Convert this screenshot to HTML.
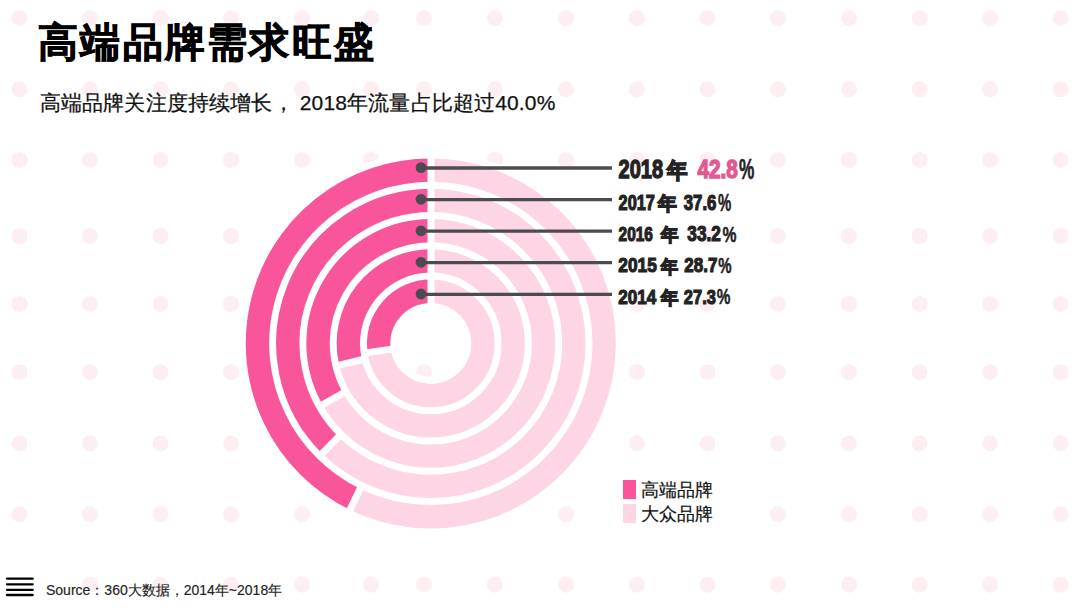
<!DOCTYPE html>
<html><head><meta charset="utf-8">
<style>
*{margin:0;padding:0;box-sizing:border-box}
html,body{width:1080px;height:608px;overflow:hidden;background:#fff}
body{position:relative;font-family:"Liberation Sans",sans-serif;color:#111}
svg.bg{position:absolute;left:0;top:0;font-family:"Liberation Sans",sans-serif}
.abs{position:absolute;white-space:nowrap}
.title{left:38px;top:17px;font-size:40px;letter-spacing:2.25px;font-weight:700;color:#000;line-height:50px;-webkit-text-stroke:0.8px #000}
.sub{left:39.8px;top:89.2px;font-size:21px;letter-spacing:0.16px;line-height:28px;color:#111;-webkit-text-stroke:0.25px #111}
.leg{left:641px;font-size:18px;line-height:20px;color:#111;-webkit-text-stroke:0.2px #111}
.sq{position:absolute;left:623px;width:13px;height:19px}
.src{left:46px;top:581px;font-size:14px;line-height:18px;color:#222;-webkit-text-stroke:0.15px #222}
</style></head><body>
<svg class="bg" width="1080" height="608" viewBox="0 0 1080 608">
<circle cx="19.5" cy="18.2" r="8" fill="#fdeef1"/>
<circle cx="90" cy="18.2" r="8" fill="#fdeef1"/>
<circle cx="160.5" cy="18.2" r="8" fill="#fdeef1"/>
<circle cx="231" cy="18.2" r="8" fill="#fdeef1"/>
<circle cx="302" cy="18.2" r="8" fill="#fdeef1"/>
<circle cx="371" cy="18.2" r="8" fill="#fdeef1"/>
<circle cx="424" cy="18.2" r="8" fill="#fdeef1"/>
<circle cx="495" cy="18.2" r="8" fill="#fdeef1"/>
<circle cx="566" cy="18.2" r="8" fill="#fdeef1"/>
<circle cx="637" cy="18.2" r="8" fill="#fdeef1"/>
<circle cx="707.5" cy="18.2" r="8" fill="#fdeef1"/>
<circle cx="778" cy="18.2" r="8" fill="#fdeef1"/>
<circle cx="849" cy="18.2" r="8" fill="#fdeef1"/>
<circle cx="919.6" cy="18.2" r="8" fill="#fdeef1"/>
<circle cx="990" cy="18.2" r="8" fill="#fdeef1"/>
<circle cx="1060.7" cy="18.2" r="8" fill="#fdeef1"/>
<circle cx="19.5" cy="89.3" r="8" fill="#fdeef1"/>
<circle cx="90" cy="89.3" r="8" fill="#fdeef1"/>
<circle cx="160.5" cy="89.3" r="8" fill="#fdeef1"/>
<circle cx="231" cy="89.3" r="8" fill="#fdeef1"/>
<circle cx="302" cy="89.3" r="8" fill="#fdeef1"/>
<circle cx="371" cy="89.3" r="8" fill="#fdeef1"/>
<circle cx="424" cy="89.3" r="8" fill="#fdeef1"/>
<circle cx="495" cy="89.3" r="8" fill="#fdeef1"/>
<circle cx="566" cy="89.3" r="8" fill="#fdeef1"/>
<circle cx="637" cy="89.3" r="8" fill="#fdeef1"/>
<circle cx="707.5" cy="89.3" r="8" fill="#fdeef1"/>
<circle cx="778" cy="89.3" r="8" fill="#fdeef1"/>
<circle cx="849" cy="89.3" r="8" fill="#fdeef1"/>
<circle cx="919.6" cy="89.3" r="8" fill="#fdeef1"/>
<circle cx="990" cy="89.3" r="8" fill="#fdeef1"/>
<circle cx="1060.7" cy="89.3" r="8" fill="#fdeef1"/>
<circle cx="19.5" cy="160" r="8" fill="#fdeef1"/>
<circle cx="90" cy="160" r="8" fill="#fdeef1"/>
<circle cx="160.5" cy="160" r="8" fill="#fdeef1"/>
<circle cx="231" cy="160" r="8" fill="#fdeef1"/>
<circle cx="302" cy="160" r="8" fill="#fdeef1"/>
<circle cx="371" cy="160" r="8" fill="#fdeef1"/>
<circle cx="424" cy="160" r="8" fill="#fdeef1"/>
<circle cx="495" cy="160" r="8" fill="#fdeef1"/>
<circle cx="566" cy="160" r="8" fill="#fdeef1"/>
<circle cx="637" cy="160" r="8" fill="#fdeef1"/>
<circle cx="707.5" cy="160" r="8" fill="#fdeef1"/>
<circle cx="778" cy="160" r="8" fill="#fdeef1"/>
<circle cx="849" cy="160" r="8" fill="#fdeef1"/>
<circle cx="919.6" cy="160" r="8" fill="#fdeef1"/>
<circle cx="990" cy="160" r="8" fill="#fdeef1"/>
<circle cx="1060.7" cy="160" r="8" fill="#fdeef1"/>
<circle cx="19.5" cy="236" r="8" fill="#fdeef1"/>
<circle cx="90" cy="236" r="8" fill="#fdeef1"/>
<circle cx="160.5" cy="236" r="8" fill="#fdeef1"/>
<circle cx="231" cy="236" r="8" fill="#fdeef1"/>
<circle cx="302" cy="236" r="8" fill="#fdeef1"/>
<circle cx="371" cy="236" r="8" fill="#fdeef1"/>
<circle cx="424" cy="236" r="8" fill="#fdeef1"/>
<circle cx="495" cy="236" r="8" fill="#fdeef1"/>
<circle cx="566" cy="236" r="8" fill="#fdeef1"/>
<circle cx="637" cy="236" r="8" fill="#fdeef1"/>
<circle cx="707.5" cy="236" r="8" fill="#fdeef1"/>
<circle cx="778" cy="236" r="8" fill="#fdeef1"/>
<circle cx="849" cy="236" r="8" fill="#fdeef1"/>
<circle cx="919.6" cy="236" r="8" fill="#fdeef1"/>
<circle cx="990" cy="236" r="8" fill="#fdeef1"/>
<circle cx="1060.7" cy="236" r="8" fill="#fdeef1"/>
<circle cx="19.5" cy="304" r="8" fill="#fdeef1"/>
<circle cx="90" cy="304" r="8" fill="#fdeef1"/>
<circle cx="160.5" cy="304" r="8" fill="#fdeef1"/>
<circle cx="231" cy="304" r="8" fill="#fdeef1"/>
<circle cx="302" cy="304" r="8" fill="#fdeef1"/>
<circle cx="371" cy="304" r="8" fill="#fdeef1"/>
<circle cx="424" cy="304" r="8" fill="#fdeef1"/>
<circle cx="495" cy="304" r="8" fill="#fdeef1"/>
<circle cx="566" cy="304" r="8" fill="#fdeef1"/>
<circle cx="637" cy="304" r="8" fill="#fdeef1"/>
<circle cx="707.5" cy="304" r="8" fill="#fdeef1"/>
<circle cx="778" cy="304" r="8" fill="#fdeef1"/>
<circle cx="849" cy="304" r="8" fill="#fdeef1"/>
<circle cx="919.6" cy="304" r="8" fill="#fdeef1"/>
<circle cx="990" cy="304" r="8" fill="#fdeef1"/>
<circle cx="1060.7" cy="304" r="8" fill="#fdeef1"/>
<circle cx="19.5" cy="372.2" r="8" fill="#fdeef1"/>
<circle cx="90" cy="372.2" r="8" fill="#fdeef1"/>
<circle cx="160.5" cy="372.2" r="8" fill="#fdeef1"/>
<circle cx="231" cy="372.2" r="8" fill="#fdeef1"/>
<circle cx="302" cy="372.2" r="8" fill="#fdeef1"/>
<circle cx="371" cy="372.2" r="8" fill="#fdeef1"/>
<circle cx="424" cy="372.2" r="8" fill="#fdeef1"/>
<circle cx="495" cy="372.2" r="8" fill="#fdeef1"/>
<circle cx="566" cy="372.2" r="8" fill="#fdeef1"/>
<circle cx="637" cy="372.2" r="8" fill="#fdeef1"/>
<circle cx="707.5" cy="372.2" r="8" fill="#fdeef1"/>
<circle cx="778" cy="372.2" r="8" fill="#fdeef1"/>
<circle cx="849" cy="372.2" r="8" fill="#fdeef1"/>
<circle cx="919.6" cy="372.2" r="8" fill="#fdeef1"/>
<circle cx="990" cy="372.2" r="8" fill="#fdeef1"/>
<circle cx="1060.7" cy="372.2" r="8" fill="#fdeef1"/>
<circle cx="19.5" cy="443.3" r="8" fill="#fdeef1"/>
<circle cx="90" cy="443.3" r="8" fill="#fdeef1"/>
<circle cx="160.5" cy="443.3" r="8" fill="#fdeef1"/>
<circle cx="231" cy="443.3" r="8" fill="#fdeef1"/>
<circle cx="302" cy="443.3" r="8" fill="#fdeef1"/>
<circle cx="371" cy="443.3" r="8" fill="#fdeef1"/>
<circle cx="424" cy="443.3" r="8" fill="#fdeef1"/>
<circle cx="495" cy="443.3" r="8" fill="#fdeef1"/>
<circle cx="566" cy="443.3" r="8" fill="#fdeef1"/>
<circle cx="637" cy="443.3" r="8" fill="#fdeef1"/>
<circle cx="707.5" cy="443.3" r="8" fill="#fdeef1"/>
<circle cx="778" cy="443.3" r="8" fill="#fdeef1"/>
<circle cx="849" cy="443.3" r="8" fill="#fdeef1"/>
<circle cx="919.6" cy="443.3" r="8" fill="#fdeef1"/>
<circle cx="990" cy="443.3" r="8" fill="#fdeef1"/>
<circle cx="1060.7" cy="443.3" r="8" fill="#fdeef1"/>
<circle cx="19.5" cy="514.3" r="8" fill="#fdeef1"/>
<circle cx="90" cy="514.3" r="8" fill="#fdeef1"/>
<circle cx="160.5" cy="514.3" r="8" fill="#fdeef1"/>
<circle cx="231" cy="514.3" r="8" fill="#fdeef1"/>
<circle cx="302" cy="514.3" r="8" fill="#fdeef1"/>
<circle cx="371" cy="514.3" r="8" fill="#fdeef1"/>
<circle cx="424" cy="514.3" r="8" fill="#fdeef1"/>
<circle cx="495" cy="514.3" r="8" fill="#fdeef1"/>
<circle cx="566" cy="514.3" r="8" fill="#fdeef1"/>
<circle cx="637" cy="514.3" r="8" fill="#fdeef1"/>
<circle cx="707.5" cy="514.3" r="8" fill="#fdeef1"/>
<circle cx="778" cy="514.3" r="8" fill="#fdeef1"/>
<circle cx="849" cy="514.3" r="8" fill="#fdeef1"/>
<circle cx="919.6" cy="514.3" r="8" fill="#fdeef1"/>
<circle cx="990" cy="514.3" r="8" fill="#fdeef1"/>
<circle cx="1060.7" cy="514.3" r="8" fill="#fdeef1"/>
<circle cx="19.5" cy="584.7" r="8" fill="#fdeef1"/>
<circle cx="90" cy="584.7" r="8" fill="#fdeef1"/>
<circle cx="160.5" cy="584.7" r="8" fill="#fdeef1"/>
<circle cx="231" cy="584.7" r="8" fill="#fdeef1"/>
<circle cx="302" cy="584.7" r="8" fill="#fdeef1"/>
<circle cx="371" cy="584.7" r="8" fill="#fdeef1"/>
<circle cx="424" cy="584.7" r="8" fill="#fdeef1"/>
<circle cx="495" cy="584.7" r="8" fill="#fdeef1"/>
<circle cx="566" cy="584.7" r="8" fill="#fdeef1"/>
<circle cx="637" cy="584.7" r="8" fill="#fdeef1"/>
<circle cx="707.5" cy="584.7" r="8" fill="#fdeef1"/>
<circle cx="778" cy="584.7" r="8" fill="#fdeef1"/>
<circle cx="849" cy="584.7" r="8" fill="#fdeef1"/>
<circle cx="919.6" cy="584.7" r="8" fill="#fdeef1"/>
<circle cx="990" cy="584.7" r="8" fill="#fdeef1"/>
<circle cx="1060.7" cy="584.7" r="8" fill="#fdeef1"/>
<circle cx="430.8" cy="343.4" r="112.5" fill="none" stroke="#fff" stroke-width="158.0"/>
<circle cx="430.8" cy="343.4" r="173.35" fill="none" stroke="#fdd5e4" stroke-width="23.30"/>
<path d="M430.80,170.05 A173.35,173.35 0 0 0 355.03,499.31" fill="none" stroke="#f8559a" stroke-width="23.30"/>
<line x1="360.99" y1="487.04" x2="349.06" y2="511.59" stroke="#fff" stroke-width="7.0"/>
<circle cx="430.8" cy="343.4" r="143.05" fill="none" stroke="#fdd5e4" stroke-width="23.30"/>
<path d="M430.80,200.35 A143.05,143.05 0 0 0 330.29,445.19" fill="none" stroke="#f8559a" stroke-width="23.30"/>
<line x1="339.88" y1="435.47" x2="320.69" y2="454.90" stroke="#fff" stroke-width="7.0"/>
<circle cx="430.8" cy="343.4" r="112.75" fill="none" stroke="#fdd5e4" stroke-width="23.30"/>
<path d="M430.80,230.65 A112.75,112.75 0 0 0 332.69,398.96" fill="none" stroke="#f8559a" stroke-width="23.30"/>
<line x1="344.56" y1="392.23" x2="320.81" y2="405.68" stroke="#fff" stroke-width="7.0"/>
<circle cx="430.8" cy="343.4" r="82.44999999999999" fill="none" stroke="#fdd5e4" stroke-width="23.30"/>
<path d="M430.80,260.95 A82.44999999999999,82.44999999999999 0 0 0 350.57,362.40" fill="none" stroke="#f8559a" stroke-width="23.30"/>
<line x1="363.85" y1="359.25" x2="337.29" y2="365.54" stroke="#fff" stroke-width="7.0"/>
<circle cx="430.8" cy="343.4" r="52.15" fill="none" stroke="#fdd5e4" stroke-width="23.30"/>
<path d="M430.80,291.25 A52.15,52.15 0 0 0 379.19,350.91" fill="none" stroke="#f8559a" stroke-width="23.30"/>
<line x1="392.70" y1="348.94" x2="365.69" y2="352.88" stroke="#fff" stroke-width="7.0"/>
<line x1="431" y1="305.4" x2="431" y2="153.39999999999998" stroke="#fff" stroke-width="7.0"/>
<line x1="421" y1="168.0" x2="612" y2="168.0" stroke="#4d4a50" stroke-width="3.3"/>
<circle cx="421" cy="167.6" r="5.4" fill="#4d4a50"/>
<line x1="421" y1="199.7" x2="612" y2="199.7" stroke="#4d4a50" stroke-width="3.3"/>
<circle cx="421" cy="199.3" r="5.4" fill="#4d4a50"/>
<line x1="421" y1="231.2" x2="612" y2="231.2" stroke="#4d4a50" stroke-width="3.3"/>
<circle cx="421" cy="230.8" r="5.4" fill="#4d4a50"/>
<line x1="421" y1="262.7" x2="612" y2="262.7" stroke="#4d4a50" stroke-width="3.3"/>
<circle cx="421" cy="262.3" r="5.4" fill="#4d4a50"/>
<line x1="421" y1="294.4" x2="612" y2="294.4" stroke="#4d4a50" stroke-width="3.3"/>
<circle cx="421" cy="294.0" r="5.4" fill="#4d4a50"/>
<text x="618.56" y="178.2" font-size="24.86" font-weight="bold" fill="#232323" stroke="#232323" stroke-width="1.3" textLength="44.54" lengthAdjust="spacingAndGlyphs">2018</text>
<text x="666.78" y="178.2" font-size="21.72" font-weight="bold" fill="#232323" stroke="#232323" stroke-width="1.5" textLength="20.39" lengthAdjust="spacingAndGlyphs">年</text>
<text x="697.44" y="178.2" font-size="24.86" font-weight="bold" fill="#e35891" stroke="#e35891" stroke-width="1.3" textLength="40.46" lengthAdjust="spacingAndGlyphs">42.8</text>
<text x="739.12" y="179.26" font-size="28.94" font-weight="bold" fill="#232323" stroke="#232323" stroke-width="0.5" textLength="15.33" lengthAdjust="spacingAndGlyphs">%</text>
<text x="618.57" y="209.9" font-size="21.3" font-weight="bold" fill="#232323" stroke="#232323" stroke-width="1.2" textLength="36.27" lengthAdjust="spacingAndGlyphs">2017</text>
<text x="657.91" y="210.21" font-size="19.02" font-weight="bold" fill="#232323" stroke="#232323" stroke-width="1.3" textLength="18.73" lengthAdjust="spacingAndGlyphs">年</text>
<text x="683.75" y="209.9" font-size="21.3" font-weight="bold" fill="#232323" stroke="#232323" stroke-width="1.2" textLength="32.62" lengthAdjust="spacingAndGlyphs">37.6</text>
<text x="718.04" y="210.68" font-size="23.12" font-weight="bold" fill="#232323" stroke="#232323" stroke-width="0.5" textLength="13.28" lengthAdjust="spacingAndGlyphs">%</text>
<text x="618.59" y="241.2" font-size="20.82" font-weight="bold" fill="#232323" stroke="#232323" stroke-width="1.2" textLength="34.28" lengthAdjust="spacingAndGlyphs">2016</text>
<text x="661.42" y="241.31" font-size="18.37" font-weight="bold" fill="#232323" stroke="#232323" stroke-width="1.3" textLength="17.33" lengthAdjust="spacingAndGlyphs">年</text>
<text x="687.35" y="241.2" font-size="22.45" font-weight="bold" fill="#232323" stroke="#232323" stroke-width="1.2" textLength="33.46" lengthAdjust="spacingAndGlyphs">33.2</text>
<text x="722.54" y="241.95" font-size="22.3" font-weight="bold" fill="#232323" stroke="#232323" stroke-width="0.5" textLength="13.98" lengthAdjust="spacingAndGlyphs">%</text>
<text x="618.37" y="272.3" font-size="21.08" font-weight="bold" fill="#232323" stroke="#232323" stroke-width="1.2" textLength="38.37" lengthAdjust="spacingAndGlyphs">2015</text>
<text x="661.0" y="272.61" font-size="18.31" font-weight="bold" fill="#232323" stroke="#232323" stroke-width="1.3" textLength="17.04" lengthAdjust="spacingAndGlyphs">年</text>
<text x="684.37" y="272.3" font-size="21.08" font-weight="bold" fill="#232323" stroke="#232323" stroke-width="1.2" textLength="32.99" lengthAdjust="spacingAndGlyphs">28.7</text>
<text x="718.24" y="273.08" font-size="22.88" font-weight="bold" fill="#232323" stroke="#232323" stroke-width="0.5" textLength="13.32" lengthAdjust="spacingAndGlyphs">%</text>
<text x="618.37" y="303.7" font-size="21.08" font-weight="bold" fill="#232323" stroke="#232323" stroke-width="1.2" textLength="37.94" lengthAdjust="spacingAndGlyphs">2014</text>
<text x="660.52" y="303.61" font-size="18.31" font-weight="bold" fill="#232323" stroke="#232323" stroke-width="1.3" textLength="17.32" lengthAdjust="spacingAndGlyphs">年</text>
<text x="683.87" y="303.7" font-size="21.08" font-weight="bold" fill="#232323" stroke="#232323" stroke-width="1.2" textLength="32.05" lengthAdjust="spacingAndGlyphs">27.3</text>
<text x="716.74" y="304.45" font-size="22.62" font-weight="bold" fill="#232323" stroke="#232323" stroke-width="0.5" textLength="13.65" lengthAdjust="spacingAndGlyphs">%</text>
<rect x="3" y="574" width="34" height="25" fill="#fff"/>
<g stroke="#000" stroke-width="2.3" stroke-linecap="round"><line x1="7" y1="578.7" x2="32.7" y2="578.7"/><line x1="7" y1="584.3" x2="32.7" y2="584.3"/><line x1="7" y1="589.8" x2="32.7" y2="589.8"/><line x1="7" y1="595" x2="32.7" y2="595"/></g>
</svg>
<div class="abs title">高端品牌需求旺盛</div>
<div class="abs sub">高端品牌关注度持续增长， 2018年流量占比超过40.0%</div>
<div class="abs" style="left:619px;top:476px;width:98px;height:51px;background:#fff"></div>
<div class="sq" style="top:480px;background:#f8559a"></div>
<div class="sq" style="top:504px;background:#fdd5e4"></div>
<div class="abs leg" style="top:480px;background:#fff">高端品牌</div>
<div class="abs leg" style="top:504px;background:#fff">大众品牌</div>
<div class="abs src">Source：360大数据，2014年~2018年</div>
</body></html>
